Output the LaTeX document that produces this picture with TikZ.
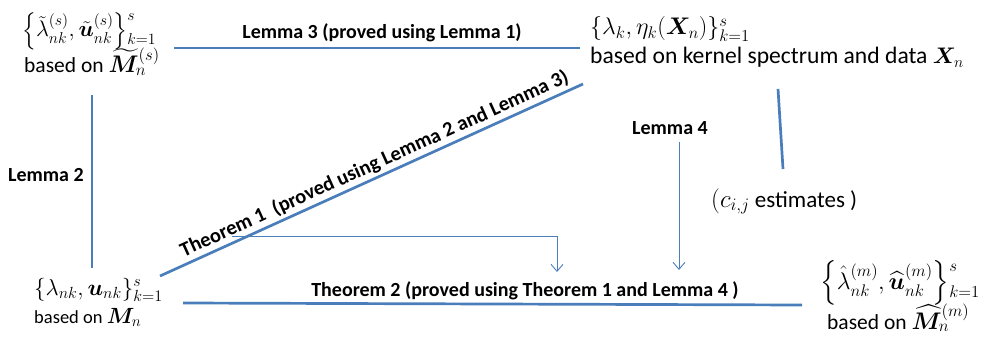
\RequirePackage{fix-cm}
\documentclass[tikz,border=0pt]{standalone}
\usepackage{amsmath}
\usepackage{bm}
\usepackage{fontspec}
\setmainfont{Carlito}
\usetikzlibrary{arrows.meta}
\definecolor{lineblue}{RGB}{74,126,187}
\newcommand{\msz}[2]{{\fontsize{#1}{#1}\selectfont #2}}
\newcommand{\scrpts}[4]{{\vrule width0pt height #1em depth #2em}^{#3}_{#4}}
\tikzset{
  thickline/.style={draw=lineblue, line width=2.7pt},
  thinarrow/.style={draw=lineblue, line width=0.9pt, -{Straight Barb[length=7pt,width=12pt]}},
  lbl/.style={font=\fontsize{20}{22}\selectfont\bfseries, inner sep=0pt},
  txt/.style={inner sep=0pt, anchor=base west},
  fs/.style={font=\fontsize{#1}{#1}\selectfont}
}
\begin{document}
\begin{tikzpicture}[x=1pt,y=-1pt]
\useasboundingbox (0,0) rectangle (993,350);
% text nodes
\node[txt, fs=22.5] (tl1) at (22,37) {$\Bigl\{\tilde\lambda^{(s)}_{nk},\tilde{\bm u}^{(s)}_{nk}\Bigr\}\scrpts{1.0}{0.3}{s}{k=1}$};
\node[txt, fs=21.5] (tl2) at (24,73) {based on \msz{24}{$\widetilde{\bm M}^{(s)}_{n}$}};
\node[txt, fs=24] (tr1) at (590,35) {$\{\lambda_k,\eta_k(\bm X_n)\}^{s}_{k=1}$};
\node[txt, fs=23.6] (tr2) at (590,64) {based on kernel spectrum and data \msz{22.5}{$\bm X_n$}};
\node[txt, fs=23] (bl1) at (34,295) {$\{\lambda_{nk},\bm u_{nk}\}^{s}_{k=1}$};
\node[txt, fs=18.5] (bl2) at (34,323) {based on \msz{22}{$\bm M_n$}};
\node[txt, fs=24] (br1) at (820,289) {$\Bigl\{\hat\lambda^{(m)}_{nk},\widehat{\bm u}^{(m)}_{nk}\Bigr\}\scrpts{1.0}{0.3}{s}{k=1}$};
\node[txt, fs=21.5] (br2) at (827,329) {based on \msz{24}{$\widehat{\bm M}^{(m)}_{n}$}};
\node[txt, fs=23] (cij) at (711,207) {\msz{25}{$(c_{i,j}$} estimates )};
% coordinates
\coordinate (l3a) at (174,48);
\coordinate (l3b) at (580,48);
\coordinate (l2a) at (92,95);
\coordinate (l2b) at (92,268);
\coordinate (t1a) at (160,276);
\coordinate (t1b) at (583,84);
\coordinate (t2a) at (183,303);
\coordinate (t2b) at (802,305);
\coordinate (ca) at (778,89);
\coordinate (cb) at (783,169);
\coordinate (ha) at (232,236);
\coordinate (hc) at (557,236);
\coordinate (hb) at (557,272);
\coordinate (l4a) at (679,142);
\coordinate (l4b) at (679,270);
% lines
\draw[thickline] (l3a) -- (l3b);
\node[lbl, anchor=base] (l3lbl) at (382,39) {Lemma 3 (proved using Lemma 1)};
\draw[thickline] (l2a) -- (l2b);
\node[lbl, anchor=base] (l2lbl) at (46,181) {Lemma 2};
\draw[thickline] (t1a) -- node[lbl, font=\fontsize{20.5}{22}\selectfont\bfseries, sloped, above=2.5pt, pos=0.52] (t1lbl) {Theorem 1\ \ (proved using Lemma 2 and Lemma 3)} (t1b);
\draw[thickline] (t2a) -- (t2b);
\node[lbl, anchor=base] (t2lbl) at (525,296) {Theorem 2 (proved using Theorem 1 and Lemma 4 )};
\draw[thickline] (ca) -- (cb);
\draw[thinarrow] (ha) -- (hc) -- (hb);
\node[lbl, anchor=base] (l4lbl) at (670,135) {Lemma 4};
\draw[thinarrow] (l4a) -- (l4b);
\end{tikzpicture}
\end{document}
